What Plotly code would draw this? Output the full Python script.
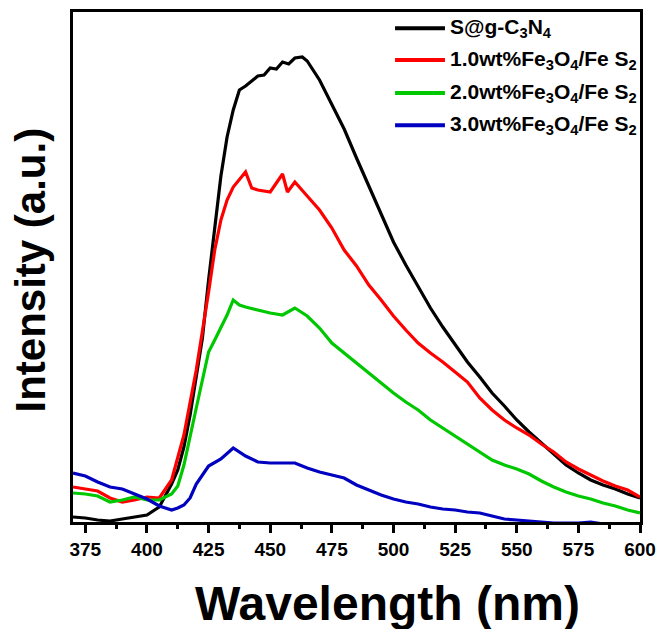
import plotly.graph_objects as go

# ---- data ----
wl_black = [370, 375, 380, 385, 390, 395, 400, 405, 410, 412.5, 415, 417.5, 420, 422.5, 425, 427.5,
            430, 432.5, 435, 437.5, 440, 442.5, 445, 447.5, 450, 452.5, 455, 457.5, 460, 463, 465,
            470, 475, 480, 485, 490,
            495, 500, 505, 510, 515, 520, 525, 530, 535, 540, 545, 550, 555, 560, 565, 570, 575,
            580, 585, 590, 595, 600]
int_black = [5, 4, 2, 1, 3, 5, 7, 15, 38, 52, 75, 107, 147, 184, 242, 294,
             346, 385, 412, 432, 436, 441, 446, 447, 454, 453, 460, 458, 464, 465, 461,
             442, 417, 393, 364, 336,
             308, 280, 257, 235, 214, 195, 177, 160, 145, 129, 116, 102, 90, 79, 68, 57, 49,
             42, 37, 33, 28, 24]

wl_red = [370, 375, 380, 385, 390, 395, 400, 405, 410, 415, 420, 425, 427.5, 430, 432.5, 435,
          437.5, 440, 442.5, 445, 450, 455, 457, 460, 465, 470, 475, 480, 485, 490, 495, 500,
          505, 510, 515, 520, 525, 530, 535, 540, 545, 550, 555, 560, 565, 570, 575, 580, 585,
          590, 595, 600]
int_red = [35, 33, 31, 24, 20, 22, 25, 24, 42, 87, 152, 230, 272, 302, 322, 335,
           342, 350, 334, 332, 330, 348, 330, 340, 326, 312, 294, 272, 256, 237, 222, 206,
           192, 179, 169, 160, 150, 140, 124, 112, 102, 94, 87, 78, 70, 60, 53, 47, 41,
           36, 32, 25]

wl_green = [370, 375, 380, 385, 390, 395, 400, 405, 410, 412.5, 415, 417.5, 420, 422.5, 425, 427.5,
            430, 432.5, 435, 437.5, 440, 445, 450, 455, 460, 465, 470, 475, 480, 485, 490, 495,
            500, 505, 510, 515, 520, 525, 530, 535, 540, 545, 550, 555, 560, 565, 570, 575, 580,
            585, 590, 595, 600]
int_green = [29, 28, 26, 20, 22, 25, 22, 22, 28, 36, 57, 84, 114, 142, 170, 182,
             194, 207, 222, 217, 215, 212, 209, 207, 214, 206, 194, 179, 169, 158, 149, 138,
             129, 120, 112, 102, 94, 86, 78, 70, 62, 57, 53, 48, 41, 35, 30, 26, 23,
             19, 16, 12, 9]

wl_blue = [370, 375, 380, 385, 390, 395, 400, 405, 410, 412.5, 415, 417.5, 420, 425, 430, 435,
           440, 445, 450, 455, 460, 465, 470, 475, 480, 485, 490, 495, 500, 505, 510, 515,
           520, 525, 530, 535, 540, 545, 550, 555, 560, 565, 570, 575, 580, 585, 590, 595, 600]
int_blue = [49, 46, 40, 35, 33, 28, 23, 16, 12, 14, 17, 24, 38, 56, 63, 74,
            66, 60, 59, 59, 59, 54, 50, 47, 44, 37, 32, 27, 23, 20, 18, 15,
            13, 12, 10, 9, 6, 3, 2, 1, 0, -1, -1, -1, 0, -2, -4, -6, -8]

names = ["S@g-C<sub>3</sub>N<sub>4</sub>",
         "1.0wt%Fe<sub>3</sub>O<sub>4</sub>/Fe S<sub>2</sub>",
         "2.0wt%Fe<sub>3</sub>O<sub>4</sub>/Fe S<sub>2</sub>",
         "3.0wt%Fe<sub>3</sub>O<sub>4</sub>/Fe S<sub>2</sub>"]
colors = ["#000000", "#ff0000", "#00c800", "#0000c0"]
x_ticks = [375, 400, 425, 450, 475, 500, 525, 550, 575, 600]
x_title = "Wavelength (nm)"
y_title = "Intensity (a.u.)"

series = [(wl_black, int_black), (wl_red, int_red), (wl_green, int_green), (wl_blue, int_blue)]

FONT = "Arial, 'Liberation Sans', sans-serif"

fig = go.Figure()
for i in range(4):
    x, y = series[i]
    fig.add_trace(go.Scatter(x=x, y=y, mode="lines", name=names[i],
                             line=dict(color=colors[i], width=3.2), showlegend=False))

# custom legend (long line samples)
leg_y = [0.968, 0.906, 0.841, 0.778]
for i in range(4):
    fig.add_shape(type="line", xref="paper", yref="paper",
                  x0=0.568, x1=0.656, y0=leg_y[i], y1=leg_y[i],
                  line=dict(color=colors[i], width=4))
    fig.add_annotation(xref="paper", yref="paper", x=0.661, y=leg_y[i],
                       xanchor="left", yanchor="middle", showarrow=False,
                       text="<b>" + names[i] + "</b>",
                       font=dict(family=FONT, size=21, color="black"))

# axis titles as annotations (fixed positions)
fig.add_annotation(xref="paper", yref="paper", x=0.555, y=-0.16,
                   xanchor="center", yanchor="middle", showarrow=False,
                   text="<b>" + x_title + "</b>",
                   font=dict(family=FONT, size=48, color="black"))
fig.add_annotation(xref="paper", yref="paper", x=-0.075, y=0.494,
                   xanchor="center", yanchor="middle", showarrow=False, textangle=-90,
                   text="<b>" + y_title + "</b>",
                   font=dict(family=FONT, size=42, color="black"))

fig.update_layout(
    width=667, height=629,
    margin=dict(l=73, r=27, t=12, b=107, autoexpand=False),
    paper_bgcolor="white", plot_bgcolor="white",
    font=dict(family=FONT, color="black"),
    xaxis=dict(range=[370, 600], tickvals=x_ticks, automargin=False,
               ticks="outside", ticklen=8, tickwidth=3, tickcolor="black",
               minor=dict(dtick=12.5, tick0=362.5, ticks="outside", ticklen=4, tickwidth=3, tickcolor="black"),
               showline=True, linewidth=3, linecolor="black", mirror=True,
               showgrid=False, zeroline=False,
               tickfont=dict(family=FONT, size=19, color="black", weight="bold")),
    yaxis=dict(range=[0, 510], showticklabels=False, ticks="", automargin=False,
               showline=True, linewidth=3, linecolor="black", mirror=True,
               showgrid=False, zeroline=False),
)

fig.write_html("out.html", config={"displayModeBar": False},
               post_script="document.body.style.margin='0px';document.body.style.overflow='hidden';")
